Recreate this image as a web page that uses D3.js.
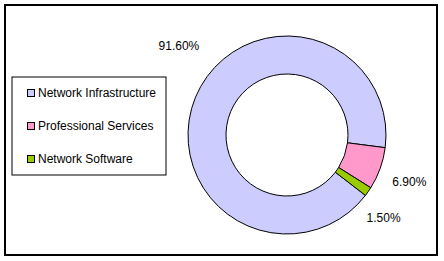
<!DOCTYPE html>
<html>
<head>
<meta charset="utf-8">
<script src="https://cdn.jsdelivr.net/npm/d3@7"></script>
<style>
  html, body { margin: 0; padding: 0; background: #fff; }
  svg text { font-family: "Liberation Sans", Arial, sans-serif; fill: #000; }
</style>
</head>
<body>
<div id="chart"></div>
<script>
// segment data, in Excel draw order
const categories = ["Network Infrastructure", "Professional Services", "Network Software"];
const shares = [91.6, 6.9, 1.5];
const labels = ["91.60%", "6.90%", "1.50%"];
const colors = ["#ccccff", "#ff99cc", "#99cc00"];

const W = 444, H = 261;
const cx = 287, cy = 135;
const rOuter = 99, rInner = 61;
const startDeg = 127.6; // first slice angle

const svg = d3.select("#chart").append("svg")
  .attr("width", W).attr("height", H);

// chart frame
svg.append("rect")
  .attr("x", 5).attr("y", 5).attr("width", 432).attr("height", 250)
  .attr("fill", "#fff").attr("stroke", "#000").attr("stroke-width", 2);

const start = startDeg * Math.PI / 180;
const pie = d3.pie().sort(null).value((d) => d)
  .startAngle(start).endAngle(start + 2 * Math.PI);
const arcs = pie(shares);

const arc = d3.arc().innerRadius(rInner).outerRadius(rOuter);

const g = svg.append("g").attr("transform", `translate(${cx},${cy})`);
g.selectAll("path").data(arcs).enter().append("path")
  .attr("d", arc)
  .attr("fill", (d, i) => colors[i])
  .attr("stroke", "#000")
  .attr("stroke-width", 1);

// labels placed outside at the mid angle; Excel shifts the big one up-left
const labelArc = d3.arc().innerRadius(130).outerRadius(130);
const nudge = [[12, -39], [0, 3], [-10, 9]];
g.selectAll("text.lbl").data(arcs).enter().append("text")
  .attr("class", "lbl")
  .attr("x", (d, i) => labelArc.centroid(d)[0] + nudge[i][0])
  .attr("y", (d, i) => labelArc.centroid(d)[1] + nudge[i][1])
  .attr("text-anchor", "middle")
  .attr("dominant-baseline", "central")
  .style("font-size", "12px")
  .text((d, i) => labels[i]);

// legend
const legend = svg.append("g");
legend.append("rect")
  .attr("x", 12).attr("y", 77).attr("width", 154).attr("height", 98)
  .attr("fill", "#fff").attr("stroke", "#000").attr("stroke-width", 1);

const rowY = d3.scalePoint().domain(categories).range([93, 159]);
const items = legend.selectAll("g.item").data(categories).enter().append("g")
  .attr("class", "item")
  .attr("transform", (d) => `translate(27, ${rowY(d)})`);
items.append("rect")
  .attr("x", 0.5).attr("y", -3.5).attr("width", 7).attr("height", 7)
  .attr("fill", (d, i) => colors[i])
  .attr("stroke", "#000").attr("stroke-width", 1);
items.append("text")
  .attr("x", 11).attr("y", 0)
  .attr("dominant-baseline", "central")
  .style("font-size", "12px")
  .text((d) => d);
</script>
</body>
</html>
